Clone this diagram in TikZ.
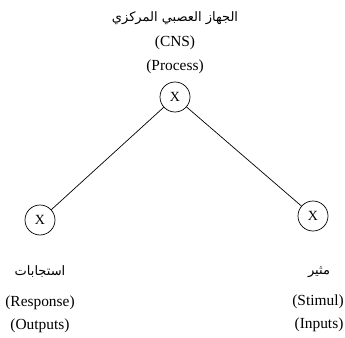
\documentclass[tikz,border=0pt]{standalone}
\usepackage{fontspec}
\setmainfont{Liberation Serif}
\newfontfamily\arabicfont[Script=Arabic]{DejaVu Sans}
\TeXXeTstate=1
\begin{document}
\begin{tikzpicture}
[x=1pt,y=-1pt,
  nodedecorate/.style={shape=circle,inner sep=0pt,minimum size=30pt,draw,line width=0.7pt,font=\fontsize{14}{16}\selectfont},%
  linedecorate/.style={-,line width=0.7pt},%
  textdecorate/.style={inner sep=0pt,font=\fontsize{15.4}{18}\selectfont},%
  arabicdecorate/.style={inner sep=0pt,font=\arabicfont\fontsize{13}{16}\selectfont}]
\useasboundingbox (0,0) rectangle (345,337);
%% nodes or vertices
\foreach \nodename/\x/\y in {cns/175/97, response/40/220, stimulus/313/216}
{
  \node (\nodename) at (\x,\y) [nodedecorate] {X};
}
%% labels
\node (cnsar) at (175,18) [arabicdecorate] {\beginR الجهاز العصبي المركزي\endR};
\node (cnsabbr) at (175,43) [textdecorate] {(CNS)};
\node (cnsrole) at (175,67) [textdecorate] {(Process)};
\node (responsear) at (40,272) [arabicdecorate] {\beginR استجابات\endR};
\node (responsename) at (40,303) [textdecorate] {(Response)};
\node (responserole) at (40,326) [textdecorate] {(Outputs)};
\node (stimulusar) at (319,272) [arabicdecorate] {\beginR مثير\endR};
\node (stimulusname) at (318,302) [textdecorate] {(Stimul)};
\node (stimulusrole) at (319,325) [textdecorate] {(Inputs)};
%% edges or lines
\path
\foreach \startnode/\endnode in {cns/response, cns/stimulus} {
  (\startnode) edge[linedecorate] (\endnode)
};
\end{tikzpicture}
\end{document}
